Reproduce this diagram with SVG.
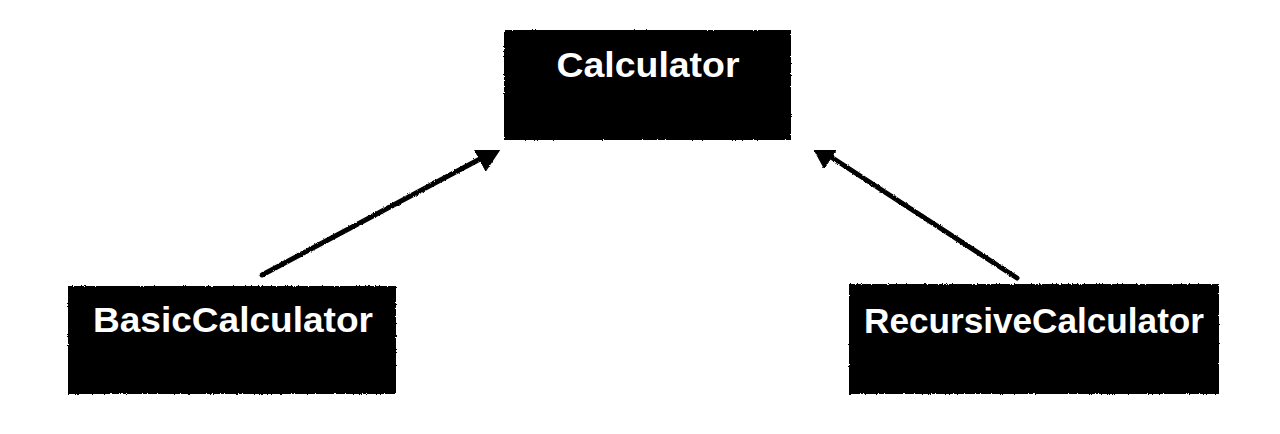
<svg xmlns="http://www.w3.org/2000/svg" width="1280" height="434" viewBox="0 0 1280 434">
  <style>
    .box { fill: #000; stroke: #000; stroke-width: 2; }
    .label { fill: #fff; font-family: "Liberation Sans", Arial, Helvetica, sans-serif; font-weight: bold; font-size: 35px; text-anchor: middle; }
    .edge { stroke: #000; stroke-width: 5; fill: none; stroke-linecap: round; }
  </style>
  <defs>
    <filter id="rough" x="-5%" y="-5%" width="110%" height="110%">
      <feTurbulence type="fractalNoise" baseFrequency="0.9" numOctaves="2" seed="3" result="n"/>
      <feDisplacementMap in="SourceGraphic" in2="n" scale="2.5" xChannelSelector="R" yChannelSelector="G"/>
    </filter>
    <marker id="arrow" viewBox="0 0 26 28" refX="1" refY="14" markerWidth="26" markerHeight="28" markerUnits="userSpaceOnUse" orient="auto">
      <path d="M0,0 L26,14 L0,28 z" fill="#000"/>
    </marker>
  </defs>
  <rect width="1280" height="434" fill="#fff"/>
  <g id="connectors" filter="url(#rough)">
    <line class="edge" x1="262" y1="275" x2="480" y2="159" marker-end="url(#arrow)"/>
    <line class="edge" x1="1017" y1="278" x2="831" y2="157" marker-end="url(#arrow)"/>
  </g>
  <g id="node-calculator">
    <rect class="box" x="505" y="31" width="285" height="108" filter="url(#rough)"/>
    <text class="label" x="648" y="77" textLength="183" lengthAdjust="spacingAndGlyphs">Calculator</text>
  </g>
  <g id="node-basic">
    <rect class="box" x="69" y="287" width="326" height="106" filter="url(#rough)"/>
    <text class="label" x="233" y="332" textLength="280" lengthAdjust="spacingAndGlyphs">BasicCalculator</text>
  </g>
  <g id="node-recursive">
    <rect class="box" x="850" y="285" width="368" height="108" filter="url(#rough)"/>
    <text class="label" x="1034" y="333" textLength="340" lengthAdjust="spacingAndGlyphs">RecursiveCalculator</text>
  </g>
</svg>
